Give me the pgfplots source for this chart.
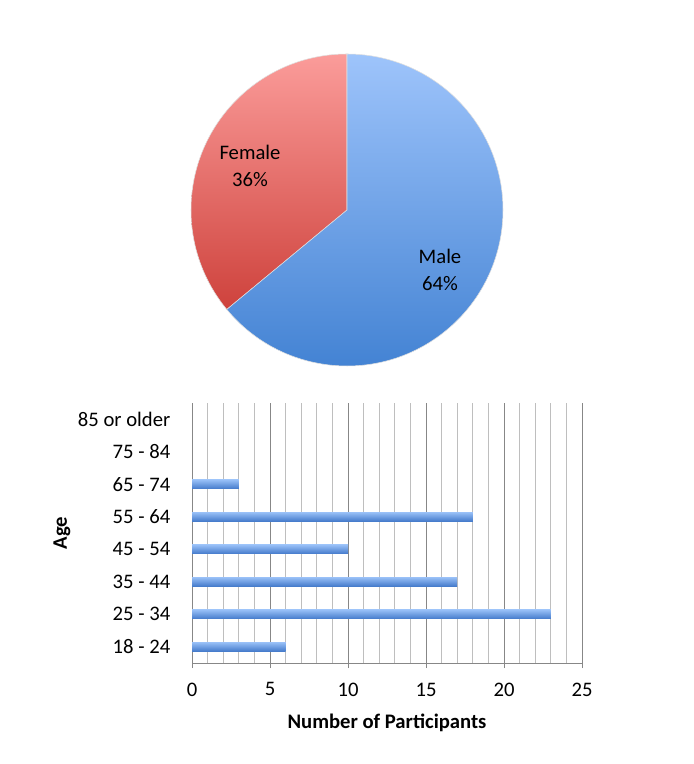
\documentclass[border=0pt]{standalone}
\usepackage{fontspec}
\setmainfont{Carlito}
\usepackage{pgfplots}
\pgfplotsset{compat=1.18}

\definecolor{maletop}{RGB}{158,196,251}
\definecolor{malebot}{RGB}{62,127,209}
\definecolor{femtop}{RGB}{251,156,154}
\definecolor{fembot}{RGB}{206,66,60}
\definecolor{bartop}{RGB}{150,190,246}
\definecolor{barbot}{RGB}{70,124,204}
\definecolor{majgrid}{RGB}{135,135,135}
\definecolor{mingrid}{RGB}{190,190,190}

\newcommand\chartfont{\fontsize{15.5}{20}\selectfont}

% shares in percent
\def\female{36}
\def\male{64}

\begin{document}
\begin{tikzpicture}[x=1pt,y=1pt]
% 1 px of the reference = 0.75pt
\path[use as bounding box] (0,0) rectangle (519.75,573);

% ---- pie: gender ----
\begin{axis}[
  at={(260.25pt,415.5pt)}, anchor=center,
  scale only axis, width=234pt, height=234pt,
  xmin=-1, xmax=1, ymin=-1, ymax=1,
  hide axis, clip=false,
]
\pgfmathsetmacro{\fend}{90+\female*3.6}
\shade[top color=femtop, bottom color=fembot, draw=gray!25, line width=0.4pt]
  (axis cs:0,0) -- (axis cs:0,1) arc[start angle=90, end angle=\fend, radius=117pt] -- cycle;
\shade[top color=maletop, bottom color=malebot, draw=gray!25, line width=0.4pt]
  (axis cs:0,0) -- ++(\fend:117pt) arc[start angle=\fend, end angle=450, radius=117pt] -- cycle;
\node[font=\chartfont, align=center] at (axis cs:-0.622,0.282) {Female\\36\%};
\node[font=\chartfont, align=center] at (axis cs:0.596,-0.385) {Male\\64\%};
\end{axis}

% ---- bars: age ----
\begin{axis}[
  at={(144pt,75.75pt)}, anchor=south west,
  scale only axis, width=292.5pt, height=195pt,
  xbar, bar width=6.5pt, bar shift=0pt,
  xmin=0, xmax=25, ymin=-0.5, ymax=7.5,
  xtick={0,5,10,15,20,25}, minor x tick num=4,
  ytick={0,...,7},
  yticklabels={18 - 24,25 - 34,35 - 44,45 - 54,55 - 64,65 - 74,75 - 84,85 or older},
  axis x line*=bottom, axis y line*=left,
  axis line style={majgrid, line width=0.6pt},
  xmajorgrids, xminorgrids,
  major grid style={majgrid, line width=0.6pt},
  minor grid style={mingrid, line width=0.6pt},
  tick align=outside, major tick length=3.75pt, minor tick length=0pt,
  x tick style={majgrid, line width=0.6pt},
  y tick style={draw=none},
  tick label style={font=\chartfont},
  /pgf/number format/assume math mode=true,
  x tick label style={yshift=-7.5pt},
  y tick label style={xshift=-9pt},
  xlabel={Number of Participants}, ylabel={Age},
  xlabel style={font=\bfseries\chartfont, at={(axis description cs:0.5,-0.2308)}, anchor=center},
  ylabel style={font=\bfseries\chartfont, at={(axis description cs:-0.3333,0.5)}, anchor=center},
  every axis plot/.append style={draw=none, top color=bartop, bottom color=barbot},
]
% one plot per age group so that each bar gets its own shading
\addplot coordinates {(6,0)};
\addplot coordinates {(23,1)};
\addplot coordinates {(17,2)};
\addplot coordinates {(10,3)};
\addplot coordinates {(18,4)};
\addplot coordinates {(3,5)};
\end{axis}
\end{tikzpicture}
\end{document}
